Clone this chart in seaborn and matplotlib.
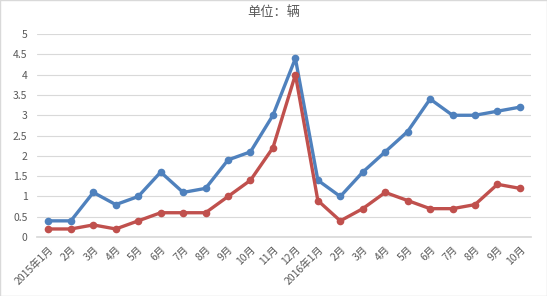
import matplotlib
matplotlib.use("Agg")
import matplotlib.pyplot as plt
import seaborn as sns
import pandas as pd

months = ["2015年1月", "2月", "3月", "4月", "5月", "6月", "7月", "8月", "9月", "10月", "11月", "12月",
          "2016年1月", "2月", "3月", "4月", "5月", "6月", "7月", "8月", "9月", "10月"]
blue_vals = [0.4, 0.4, 1.1, 0.8, 1.0, 1.6, 1.1, 1.2, 1.9, 2.1, 3.0, 4.4,
             1.4, 1.0, 1.6, 2.1, 2.6, 3.4, 3.0, 3.0, 3.1, 3.2]
red_vals = [0.2, 0.2, 0.3, 0.2, 0.4, 0.6, 0.6, 0.6, 1.0, 1.4, 2.2, 4.0,
            0.9, 0.4, 0.7, 1.1, 0.9, 0.7, 0.7, 0.8, 1.3, 1.2]
yticks = [0, 0.5, 1, 1.5, 2, 2.5, 3, 3.5, 4, 4.5, 5]
ytick_labels = ["0", "0.5", "1", "1.5", "2", "2.5", "3", "3.5", "4", "4.5", "5"]

sns.set_theme(style="white")
plt.rcParams['font.family'] = ['Noto Sans CJK SC', 'DejaVu Sans']

df = pd.DataFrame({"x": list(range(len(months))) * 2,
                   "v": blue_vals + red_vals,
                   "s": ["blue"] * len(months) + ["red"] * len(months)})

fig = plt.figure(figsize=(5.47, 2.96), dpi=100)
ax = fig.add_axes([0.068, 0.199, 0.903, 0.686])
sns.lineplot(data=df, x="x", y="v", hue="s", palette={"blue": "#4F81BD", "red": "#C0504D"},
             marker="o", markersize=5.5, linewidth=2.4, markeredgewidth=0, legend=False, ax=ax)

ax.set_xlim(-0.5, len(months) - 0.5)
ax.set_ylim(0, 5)
ax.set_yticks(yticks)
ax.set_yticklabels(ytick_labels)
ax.set_xticks(range(len(months)))
ax.set_xticklabels(months, rotation=45, ha="right", rotation_mode="anchor")
ax.tick_params(axis="both", labelsize=7.5, colors="#595959", length=0)
ax.tick_params(axis="y", pad=7)
ax.tick_params(axis="x", pad=5)
ax.yaxis.grid(True, color="#D9D9D9", linewidth=0.8)
ax.set_axisbelow(True)
for s in ["top", "right", "left"]:
    ax.spines[s].set_visible(False)
ax.spines["bottom"].set_color("#D9D9D9")
ax.set_xlabel("")
ax.set_ylabel("")
fig.text(0.5, 0.958, "单位：辆", ha="center", va="center", fontsize=9.5, color="#595959")
fig.patches.append(plt.Rectangle((0, 0), 1, 1, transform=fig.transFigure, fill=False,
                                 edgecolor="#D9D9D9", linewidth=1))
fig.savefig("out.png", dpi=100)
